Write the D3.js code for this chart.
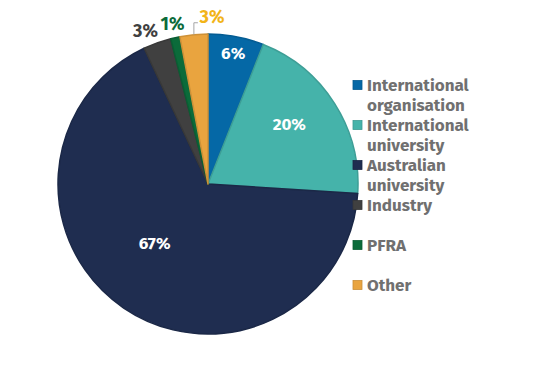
<!DOCTYPE html>
<html><head><meta charset="utf-8">
<script src="https://cdn.jsdelivr.net/npm/d3@7"></script>
<style>body{margin:0;background:#fff;}svg{display:block;font-family:"Fira Sans","Open Sans",Lato,sans-serif;}</style>
</head><body><svg id="c" width="550" height="370"></svg>
<script>
const categories = ["International organisation","International university","Australian university","Industry","PFRA","Other"];
const legendLines = [["International","organisation"],["International","university"],["Australian","university"],["Industry"],["PFRA"],["Other"]];
const values = [6, 20, 67, 3, 1, 3];
const colors = ["#0568A6","#45B3AA","#1F2D50","#404040","#0B6B3A","#E9A43F"];
const labelColors = ["#ffffff","#ffffff","#ffffff","#404040","#0B6B3A","#F2B418"];

const svg = d3.select("#c");
const cx = 208, cy = 184, r = 150;
const g = svg.append("g").attr("transform",`translate(${cx},${cy})`);
const pie = d3.pie().sort(null).value(d=>d);
const arcs = pie(values);
const arc = d3.arc().innerRadius(0).outerRadius(r);
g.selectAll("path").data(arcs).join("path")
  .attr("d",arc)
  .attr("fill",(d,i)=>colors[i])
  .attr("stroke",(d,i)=>d3.color(colors[i]).darker(0.35))
  .attr("stroke-width",1.5)
  .attr("stroke-linejoin","round");

// labels
const labelR = [0.86*r, 0.65*r, 0.55*r, r+14, r+13, r+20];
const nudge = [[1,-4],[-1,-8],[-7,-9],[-7,1],[0,-1],[20,2]];
arcs.forEach((d,i)=>{
  const a = d3.arc().innerRadius(labelR[i]).outerRadius(labelR[i]);
  let [x,y] = a.centroid(d);
  x += nudge[i][0]; y += nudge[i][1];
  g.append("text").attr("x",x).attr("y",y).attr("dy","0.35em")
   .attr("text-anchor","middle").attr("font-weight",700).attr("font-size",i<3?17:18)
   .attr("fill",labelColors[i]).text(values[i]+"%");
  if(i===5){
    const m = d3.arc().innerRadius(r).outerRadius(r).centroid(d);
    g.append("polyline").attr("points",`${m[0]},${m[1]} ${m[0]},${y+6} ${m[0]+4},${y+6}`)
     .attr("fill","none").attr("stroke","#a6a6a6").attr("stroke-width",1);
  }
});

// legend
const lg = svg.append("g").attr("transform","translate(353,85)");
categories.forEach((c,i)=>{
  const row = lg.append("g").attr("transform",`translate(0,${i*40})`);
  row.append("rect").attr("x",0).attr("y",-4.5).attr("width",9).attr("height",9)
    .attr("fill",colors[i]).attr("stroke",d3.color(colors[i]).darker(0.4)).attr("stroke-width",0.8);
  legendLines[i].forEach((t,j)=>{
    row.append("text").attr("x",14).attr("y",j*20).attr("dy","0.35em")
      .attr("font-weight",700).attr("font-size",17).attr("fill","#707070").text(t);
  });
});
</script></body></html>
